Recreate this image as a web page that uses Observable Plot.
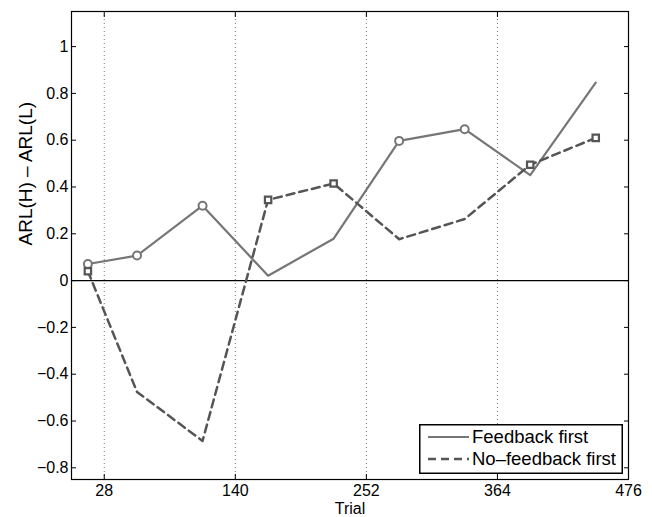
<!DOCTYPE html>
<html>
<head>
<meta charset="utf-8">
<script src="https://cdn.jsdelivr.net/npm/d3@7"></script>
<script src="https://cdn.jsdelivr.net/npm/@observablehq/plot@0.6"></script>
<style>
  html, body { margin: 0; padding: 0; background: white; }
  #wrap { position: relative; width: 652px; height: 517px; font-family: "Liberation Sans", Arial, sans-serif; }
  #legend { position: absolute; left: 419px; top: 424px; }
</style>
</head>
<body>
<div id="wrap"></div>
<script>
const trials = [14, 56, 112, 168, 224, 280, 336, 392, 448];
const feedbackFirst = [0.071, 0.107, 0.32, 0.021, 0.179, 0.597, 0.647, 0.451, 0.846];
const noFeedbackFirst = [0.04, -0.476, -0.685, 0.345, 0.415, 0.177, 0.263, 0.495, 0.61];
const feedbackMarked = [1, 1, 1, 0, 0, 1, 1, 0, 0];
const noFeedbackMarked = [1, 0, 0, 1, 1, 0, 0, 1, 1];
const xTicks = [28, 140, 252, 364, 476];
const yTicks = [-0.8, -0.6, -0.4, -0.2, 0, 0.2, 0.4, 0.6, 0.8, 1];
const seriesNames = ["Feedback first", "No\u2013feedback first"];
const xLabel = "Trial";
const yLabel = "ARL(H) \u2013 ARL(L)";

const fb = trials.map((t, i) => ({x: t, y: feedbackFirst[i], m: feedbackMarked[i]}));
const nf = trials.map((t, i) => ({x: t, y: noFeedbackFirst[i], m: noFeedbackMarked[i]}));

const solidColor = "#767676";
const dashColor = "#555555";
const fmt = d => (Math.round(d * 10) / 10).toString().replace("-", "\u2212");

const chart = Plot.plot({
  width: 652,
  height: 517,
  marginLeft: 71,
  marginRight: 24,
  marginTop: 11,
  marginBottom: 38,
  style: {fontFamily: "Liberation Sans, Arial, sans-serif", fontSize: "16px", color: "black", background: "white"},
  x: {domain: [0, 476]},
  y: {domain: [-0.85, 1.15]},
  marks: [
    Plot.gridX(xTicks.slice(0, -1), {stroke: "#777", strokeOpacity: 1, strokeDasharray: "1,3", strokeWidth: 1}),
    Plot.ruleY([0], {stroke: "black", strokeWidth: 1.2}),
    Plot.line(fb, {x: "x", y: "y", stroke: solidColor, strokeWidth: 2.2}),
    Plot.line(nf, {x: "x", y: "y", stroke: dashColor, strokeWidth: 2.5, strokeDasharray: "8,5"}),
    Plot.dot(fb.filter(d => d.m), {x: "x", y: "y", r: 4, stroke: solidColor, strokeWidth: 2, fill: "white"}),
    Plot.dot(nf.filter(d => d.m), {x: "x", y: "y", r: 3.6, symbol: "square", stroke: dashColor, strokeWidth: 2.2, fill: "white"}),
    Plot.axisX(xTicks, {anchor: "bottom", tickSize: -5, tickPadding: 10, tickFormat: d => String(d), label: null, fontSize: 16}),
    Plot.axisX(xTicks, {anchor: "top", tickSize: -5, tickFormat: () => "", label: null}),
    Plot.axisY(yTicks, {anchor: "left", tickSize: -5, tickPadding: 8, tickFormat: fmt, label: null, fontSize: 16}),
    Plot.axisY(yTicks, {anchor: "right", tickSize: -5, tickFormat: () => "", label: null}),
    Plot.frame({stroke: "black", strokeWidth: 1.2}),
    Plot.text([xLabel], {frameAnchor: "bottom", lineAnchor: "middle", dy: 29, fontSize: 16, fill: "black"}),
    Plot.text([yLabel], {frameAnchor: "left", rotate: -90, dx: -46, fontSize: 19, fill: "black"})
  ]
});

const wrap = document.getElementById("wrap");
wrap.appendChild(chart);

// Legend inside the plot (bottom right)
const lw = 204, lh = 50;
const leg = d3.create("svg").attr("id", "legend").attr("width", lw).attr("height", lh)
  .style("font-family", "Liberation Sans, Arial, sans-serif");
leg.append("rect").attr("x", 0.75).attr("y", 0.75).attr("width", lw - 1.5).attr("height", lh - 1.5)
  .attr("fill", "white").attr("stroke", "black").attr("stroke-width", 1.5);
const rows = [
  {name: seriesNames[0], color: solidColor, dash: null, w: 2.2, y: 13},
  {name: seriesNames[1], color: dashColor, dash: "8,5", w: 2.5, y: 35}
];
rows.forEach(r => {
  leg.append("line").attr("x1", 9).attr("x2", 50).attr("y1", r.y).attr("y2", r.y)
    .attr("stroke", r.color).attr("stroke-width", r.w).attr("stroke-dasharray", r.dash);
  leg.append("text").attr("x", 53).attr("y", r.y).attr("dy", "0.35em")
    .attr("font-size", 18.5).attr("fill", "black").text(r.name);
});
wrap.appendChild(leg.node());
</script>
</body>
</html>
